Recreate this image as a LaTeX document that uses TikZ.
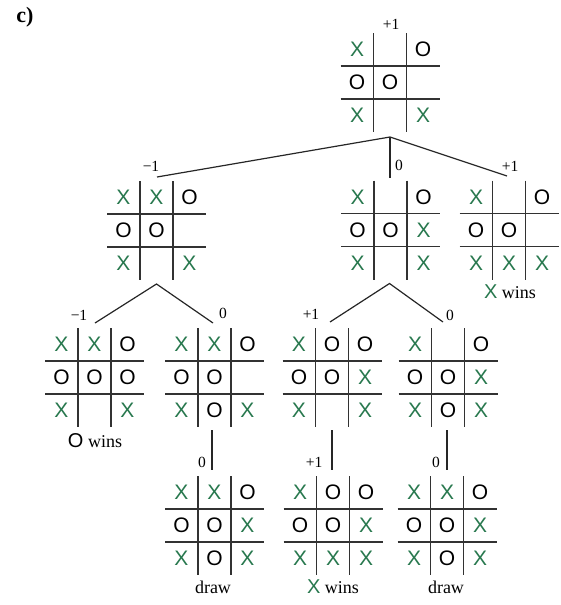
\documentclass[tikz,border=0pt]{standalone}
\usepackage{fontspec}
\setmainfont{Liberation Serif}
\newfontfamily\symfont{Liberation Sans}
\usetikzlibrary{calc}
\definecolor{xgreen}{RGB}{40,120,78}
\definecolor{gridc}{RGB}{50,50,50}
\tikzset{
  boardbox/.style={minimum width=99pt, minimum height=99pt, inner sep=0pt, outer sep=0pt},
  gridline/.style={line width=1.6pt, draw=gridc},
  edgeline/.style={line width=1.2pt, draw=black!85},
  cellsym/.style={inner sep=0pt, font=\symfont\fontsize{21}{21}\selectfont},
  val/.style={inner sep=0pt, font=\fontsize{15.5}{15.5}\selectfont},
  outcome/.style={inner sep=0pt, font=\fontsize{18}{18}\selectfont},
}
\newcommand\mX{\textcolor{xgreen}{X}}
\newcommand\mO{O}
\newcommand\wX{{\symfont\fontsize{20}{20}\selectfont\textcolor{xgreen}{X}}}
\newcommand\wO{{\symfont\fontsize{20}{20}\selectfont O}}
\newcommand\tttboard[3]{%
  \node[boardbox] (#1) at (#2) {};
  \draw[gridline] ($(#1.north west)+(33,0)$) -- ($(#1.south west)+(33,0)$);
  \draw[gridline] ($(#1.north west)+(66,0)$) -- ($(#1.south west)+(66,0)$);
  \draw[gridline] ($(#1.north west)+(0,33)$) -- ($(#1.north east)+(0,33)$);
  \draw[gridline] ($(#1.north west)+(0,66)$) -- ($(#1.north east)+(0,66)$);
  \foreach \s [count=\k from 0] in {#3} {
    \pgfmathtruncatemacro\rr{floor(\k/3)}
    \pgfmathtruncatemacro\cc{mod(\k,3)}
    \node[cellsym] at ($(#1.north west)+(16.5+33*\cc,16.5+33*\rr)$) {\s};
  }
}
\begin{document}
\begin{tikzpicture}[x=1pt,y=-1pt]
\useasboundingbox (0,0) rectangle (561,605);
\node[inner sep=0pt, font=\bfseries\fontsize{22}{22}\selectfont] (title) at (25,17) {c)};
% boards
\tttboard{b0}{390,82.5}{\mX,,\mO,\mO,\mO,,\mX,,\mX}
\tttboard{bL}{156.5,230.5}{\mX,\mX,\mO,\mO,\mO,,\mX,,\mX}
\tttboard{bM}{390.5,230}{\mX,,\mO,\mO,\mO,\mX,\mX,,\mX}
\tttboard{bR}{509,230}{\mX,,\mO,\mO,\mO,,\mX,\mX,\mX}
\tttboard{bLL}{94.5,377.5}{\mX,\mX,\mO,\mO,\mO,\mO,\mX,,\mX}
\tttboard{bLR}{214.5,377.5}{\mX,\mX,\mO,\mO,\mO,,\mX,\mO,\mX}
\tttboard{bML}{332,377.5}{\mX,\mO,\mO,\mO,\mO,\mX,\mX,,\mX}
\tttboard{bMR}{448,377.5}{\mX,,\mO,\mO,\mO,\mX,\mX,\mO,\mX}
\tttboard{cLR}{214.5,525.5}{\mX,\mX,\mO,\mO,\mO,\mX,\mX,\mO,\mX}
\tttboard{cML}{333,525.5}{\mX,\mO,\mO,\mO,\mO,\mX,\mX,\mX,\mX}
\tttboard{cMR}{447,525.5}{\mX,\mX,\mO,\mO,\mO,\mX,\mX,\mO,\mX}
% connectors
\coordinate (a0) at ($(b0.south)+(0,5)$);
\coordinate (e1) at (157,177);
\coordinate (e2) at (390,178);
\coordinate (e3) at (507,176);
\draw[edgeline] (e1) -- (a0) -- (e3);
\draw[edgeline] (a0) -- (e2);
\coordinate (aL) at ($(bL.south)+(0,4)$);
\coordinate (eLL) at (95,323);
\coordinate (eLR) at (213,323);
\draw[edgeline] (eLL) -- (aL) -- (eLR);
\coordinate (aM) at ($(bM.south)+(-1,4)$);
\coordinate (eML) at (330,322);
\coordinate (eMR) at (443,322);
\draw[edgeline] (eML) -- (aM) -- (eMR);
\draw[edgeline] ($(bLR.south)+(-2.5,3)$) -- ($(cLR.north)+(-2.5,-6)$);
\draw[edgeline] ($(bML.south)+(0,3)$) -- ($(cML.north)+(-1,-6)$);
\draw[edgeline] ($(bMR.south)+(-1,3)$) -- ($(cMR.north)+(0,-6)$);
% values
\node[val] (v0) at (391,24) {+1};
\node[val] (v1) at (151,166) {−1};
\node[val] (v2) at (399,165) {0};
\node[val] (v3) at (510,166) {+1};
\node[val] (v4) at (79,315) {−1};
\node[val] (v5) at (223,313) {0};
\node[val] (v6) at (311,314) {+1};
\node[val] (v7) at (450,315) {0};
\node[val] (v8) at (202,462) {0};
\node[val] (v9) at (314,462) {+1};
\node[val] (v10) at (436,462) {0};
% outcomes
\node[outcome] (o1) at (510,292) {\wX\ wins};
\node[outcome] (o2) at (95,441) {\wO\ wins};
\node[outcome] (o3) at (213,587) {draw};
\node[outcome] (o4) at (333,587) {\wX\ wins};
\node[outcome] (o5) at (446,587) {draw};
\end{tikzpicture}
\end{document}
